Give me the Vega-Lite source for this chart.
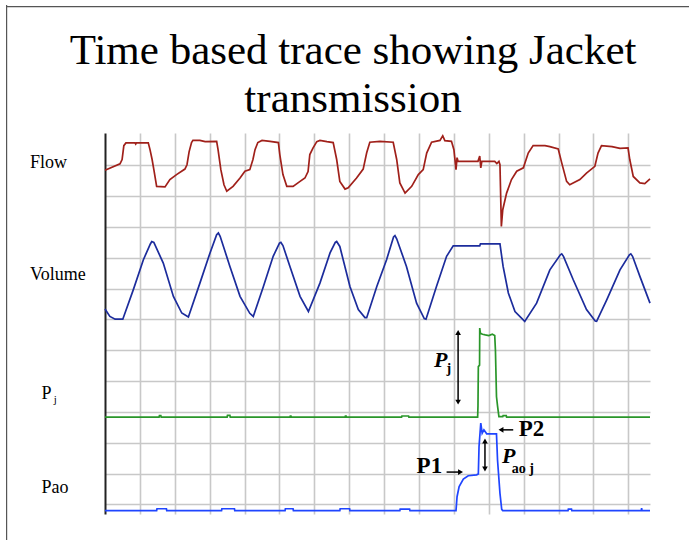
{
  "$schema": "https://vega.github.io/schema/vega-lite/v6.json",
  "width": 545,
  "height": 381,
  "autosize": {"type": "none"},
  "padding": {"left": 105, "top": 133, "right": 39, "bottom": 26},
  "background": "white",
  "config": {"view": {"stroke": null}},
  "encoding": {
    "x": {"field": "t", "type": "quantitative", "scale": {"domain": [0, 15.62], "nice": false, "zero": false},
      "axis": {"values": [1,2,3,4,5,6,7,8,9,10,11,12,13,14,15], "labels": false, "ticks": false, "domain": false, "title": null, "grid": true, "gridColor": "#c8c8c8", "gridWidth": 1.6}},
    "y": {"field": "v", "type": "quantitative", "scale": {"domain": [-0.31, 12.05], "nice": false, "zero": false},
      "axis": {"values": [0,1,2,3,4,5,6,7,8,9,10,11], "labels": false, "ticks": false, "domain": true, "domainColor": "#222222", "domainWidth": 2, "title": null, "grid": true, "gridColor": "#c8c8c8", "gridWidth": 1.6}}
  },
  "layer": [
    {
      "data": {"values": [
        {"t": -2.82, "v": 16.2, "t2": -2.82, "v2": -1.6},
        {"t": -2.82, "v": 16.15, "t2": 17.5, "v2": 16.15}
      ]},
      "mark": {"type": "rule", "color": "#555555", "strokeWidth": 1.2, "clip": false},
      "encoding": {"x2": {"field": "t2"}, "y2": {"field": "v2"}}
    },
    {
      "data": {"values": [
        {"s":"Flow","t":0,"v":10.84},{"s":"Flow","t":0.43,"v":11.05},{"s":"Flow","t":0.49,"v":11.19},{"s":"Flow","t":0.54,"v":11.64},{"s":"Flow","t":0.6,"v":11.73},{"s":"Flow","t":0.86,"v":11.73},{"s":"Flow","t":0.88,"v":11.69},{"s":"Flow","t":0.9,"v":11.73},{"s":"Flow","t":1.24,"v":11.73},{"s":"Flow","t":1.29,"v":11.51},{"s":"Flow","t":1.35,"v":11.19},{"s":"Flow","t":1.4,"v":10.86},{"s":"Flow","t":1.48,"v":10.32},{"s":"Flow","t":1.72,"v":10.3},{"s":"Flow","t":1.86,"v":10.54},{"s":"Flow","t":2.05,"v":10.7},{"s":"Flow","t":2.29,"v":10.88},{"s":"Flow","t":2.35,"v":11.02},{"s":"Flow","t":2.41,"v":11.44},{"s":"Flow","t":2.48,"v":11.74},{"s":"Flow","t":2.52,"v":11.81},{"s":"Flow","t":2.72,"v":11.81},{"s":"Flow","t":2.87,"v":11.77},{"s":"Flow","t":3.2,"v":11.78},{"s":"Flow","t":3.24,"v":11.51},{"s":"Flow","t":3.32,"v":10.86},{"s":"Flow","t":3.41,"v":10.37},{"s":"Flow","t":3.49,"v":10.16},{"s":"Flow","t":3.67,"v":10.32},{"s":"Flow","t":3.87,"v":10.59},{"s":"Flow","t":4.01,"v":10.81},{"s":"Flow","t":4.15,"v":10.86},{"s":"Flow","t":4.24,"v":11.19},{"s":"Flow","t":4.3,"v":11.51},{"s":"Flow","t":4.38,"v":11.74},{"s":"Flow","t":4.5,"v":11.81},{"s":"Flow","t":4.73,"v":11.78},{"s":"Flow","t":4.97,"v":11.74},{"s":"Flow","t":5.01,"v":11.35},{"s":"Flow","t":5.1,"v":10.7},{"s":"Flow","t":5.21,"v":10.32},{"s":"Flow","t":5.39,"v":10.32},{"s":"Flow","t":5.59,"v":10.48},{"s":"Flow","t":5.73,"v":10.59},{"s":"Flow","t":5.82,"v":10.8},{"s":"Flow","t":5.87,"v":11.35},{"s":"Flow","t":5.96,"v":11.56},{"s":"Flow","t":6.07,"v":11.77},{"s":"Flow","t":6.16,"v":11.81},{"s":"Flow","t":6.36,"v":11.77},{"s":"Flow","t":6.54,"v":11.74},{"s":"Flow","t":6.64,"v":11.19},{"s":"Flow","t":6.73,"v":10.48},{"s":"Flow","t":6.88,"v":10.23},{"s":"Flow","t":6.97,"v":10.27},{"s":"Flow","t":7.21,"v":10.59},{"s":"Flow","t":7.4,"v":10.88},{"s":"Flow","t":7.5,"v":11.41},{"s":"Flow","t":7.59,"v":11.75},{"s":"Flow","t":7.88,"v":11.78},{"s":"Flow","t":8.26,"v":11.75},{"s":"Flow","t":8.36,"v":11.19},{"s":"Flow","t":8.45,"v":10.43},{"s":"Flow","t":8.6,"v":10.1},{"s":"Flow","t":8.79,"v":10.32},{"s":"Flow","t":8.98,"v":10.7},{"s":"Flow","t":9.12,"v":10.86},{"s":"Flow","t":9.22,"v":11.4},{"s":"Flow","t":9.36,"v":11.75},{"s":"Flow","t":9.6,"v":11.81},{"s":"Flow","t":9.68,"v":11.96},{"s":"Flow","t":9.74,"v":11.8},{"s":"Flow","t":9.93,"v":11.78},{"s":"Flow","t":10.0,"v":11.51},{"s":"Flow","t":10.06,"v":10.86},{"s":"Flow","t":10.09,"v":11.25},{"s":"Flow","t":10.12,"v":11.13},{"s":"Flow","t":10.69,"v":11.13},{"s":"Flow","t":10.74,"v":11.3},{"s":"Flow","t":10.77,"v":10.92},{"s":"Flow","t":10.8,"v":11.13},{"s":"Flow","t":11.17,"v":11.13},{"s":"Flow","t":11.23,"v":11.06},{"s":"Flow","t":11.29,"v":11.13},{"s":"Flow","t":11.32,"v":11.02},{"s":"Flow","t":11.36,"v":9.02},{"s":"Flow","t":11.4,"v":9.56},{"s":"Flow","t":11.51,"v":10.1},{"s":"Flow","t":11.65,"v":10.54},{"s":"Flow","t":11.8,"v":10.81},{"s":"Flow","t":11.99,"v":10.92},{"s":"Flow","t":12.13,"v":11.4},{"s":"Flow","t":12.27,"v":11.64},{"s":"Flow","t":12.61,"v":11.64},{"s":"Flow","t":12.75,"v":11.61},{"s":"Flow","t":12.99,"v":11.53},{"s":"Flow","t":13.09,"v":11.08},{"s":"Flow","t":13.23,"v":10.48},{"s":"Flow","t":13.32,"v":10.37},{"s":"Flow","t":13.61,"v":10.54},{"s":"Flow","t":13.8,"v":10.75},{"s":"Flow","t":14.04,"v":10.97},{"s":"Flow","t":14.13,"v":11.4},{"s":"Flow","t":14.23,"v":11.64},{"s":"Flow","t":14.53,"v":11.61},{"s":"Flow","t":14.76,"v":11.55},{"s":"Flow","t":14.99,"v":11.57},{"s":"Flow","t":15.04,"v":11.19},{"s":"Flow","t":15.14,"v":10.64},{"s":"Flow","t":15.33,"v":10.43},{"s":"Flow","t":15.47,"v":10.41},{"s":"Flow","t":15.62,"v":10.56},
        {"s":"Volume","t":0,"v":6.34},{"s":"Volume","t":0.14,"v":6.1},{"s":"Volume","t":0.29,"v":6.01},{"s":"Volume","t":0.51,"v":6.01},{"s":"Volume","t":0.81,"v":6.96},{"s":"Volume","t":1.1,"v":7.94},{"s":"Volume","t":1.3,"v":8.45},{"s":"Volume","t":1.34,"v":8.53},{"s":"Volume","t":1.4,"v":8.5},{"s":"Volume","t":1.67,"v":7.83},{"s":"Volume","t":1.96,"v":6.75},{"s":"Volume","t":2.2,"v":6.21},{"s":"Volume","t":2.39,"v":6.08},{"s":"Volume","t":2.72,"v":7.18},{"s":"Volume","t":3.01,"v":8.16},{"s":"Volume","t":3.2,"v":8.75},{"s":"Volume","t":3.25,"v":8.81},{"s":"Volume","t":3.3,"v":8.7},{"s":"Volume","t":3.58,"v":7.72},{"s":"Volume","t":3.87,"v":6.75},{"s":"Volume","t":4.15,"v":6.2},{"s":"Volume","t":4.25,"v":6.1},{"s":"Volume","t":4.54,"v":7.07},{"s":"Volume","t":4.82,"v":8.05},{"s":"Volume","t":5.0,"v":8.48},{"s":"Volume","t":5.04,"v":8.5},{"s":"Volume","t":5.1,"v":8.4},{"s":"Volume","t":5.3,"v":7.72},{"s":"Volume","t":5.59,"v":6.75},{"s":"Volume","t":5.83,"v":6.26},{"s":"Volume","t":6.16,"v":7.18},{"s":"Volume","t":6.45,"v":8.16},{"s":"Volume","t":6.6,"v":8.5},{"s":"Volume","t":6.64,"v":8.53},{"s":"Volume","t":6.73,"v":8.37},{"s":"Volume","t":7.02,"v":7.07},{"s":"Volume","t":7.26,"v":6.32},{"s":"Volume","t":7.45,"v":6.06},{"s":"Volume","t":7.5,"v":6.06},{"s":"Volume","t":7.79,"v":7.07},{"s":"Volume","t":8.07,"v":7.94},{"s":"Volume","t":8.27,"v":8.68},{"s":"Volume","t":8.31,"v":8.72},{"s":"Volume","t":8.36,"v":8.62},{"s":"Volume","t":8.64,"v":7.72},{"s":"Volume","t":8.93,"v":6.53},{"s":"Volume","t":9.15,"v":6.03},{"s":"Volume","t":9.2,"v":6.01},{"s":"Volume","t":9.5,"v":7.07},{"s":"Volume","t":9.79,"v":8.05},{"s":"Volume","t":9.98,"v":8.39},{"s":"Volume","t":10.74,"v":8.39},{"s":"Volume","t":10.76,"v":8.45},{"s":"Volume","t":11.32,"v":8.45},{"s":"Volume","t":11.41,"v":7.72},{"s":"Volume","t":11.56,"v":6.86},{"s":"Volume","t":11.75,"v":6.26},{"s":"Volume","t":12.03,"v":5.94},{"s":"Volume","t":12.37,"v":6.53},{"s":"Volume","t":12.75,"v":7.61},{"s":"Volume","t":13.05,"v":8.1},{"s":"Volume","t":13.09,"v":8.13},{"s":"Volume","t":13.14,"v":8.05},{"s":"Volume","t":13.42,"v":7.29},{"s":"Volume","t":13.8,"v":6.32},{"s":"Volume","t":14.05,"v":5.95},{"s":"Volume","t":14.09,"v":5.94},{"s":"Volume","t":14.38,"v":6.64},{"s":"Volume","t":14.76,"v":7.61},{"s":"Volume","t":15.03,"v":8.1},{"s":"Volume","t":15.07,"v":8.13},{"s":"Volume","t":15.12,"v":8.05},{"s":"Volume","t":15.33,"v":7.4},{"s":"Volume","t":15.62,"v":6.53},
        {"s":"Pj","t":0,"v":2.83},{"s":"Pj","t":1.55,"v":2.83},{"s":"Pj","t":1.56,"v":2.88},{"s":"Pj","t":1.6,"v":2.88},{"s":"Pj","t":1.61,"v":2.83},{"s":"Pj","t":3.5,"v":2.83},{"s":"Pj","t":3.51,"v":2.89},{"s":"Pj","t":3.58,"v":2.89},{"s":"Pj","t":3.59,"v":2.83},{"s":"Pj","t":5.3,"v":2.83},{"s":"Pj","t":5.31,"v":2.87},{"s":"Pj","t":5.33,"v":2.87},{"s":"Pj","t":5.34,"v":2.83},{"s":"Pj","t":6.88,"v":2.83},{"s":"Pj","t":6.89,"v":2.87},{"s":"Pj","t":6.91,"v":2.87},{"s":"Pj","t":6.92,"v":2.83},{"s":"Pj","t":8.5,"v":2.83},{"s":"Pj","t":8.51,"v":2.87},{"s":"Pj","t":8.7,"v":2.87},{"s":"Pj","t":8.71,"v":2.83},{"s":"Pj","t":10.68,"v":2.83},{"s":"Pj","t":10.69,"v":3.2},{"s":"Pj","t":10.7,"v":4.47},{"s":"Pj","t":10.735,"v":4.52},{"s":"Pj","t":10.74,"v":5.72},{"s":"Pj","t":10.76,"v":5.55},{"s":"Pj","t":10.82,"v":5.52},{"s":"Pj","t":10.9,"v":5.5},{"s":"Pj","t":11.0,"v":5.48},{"s":"Pj","t":11.1,"v":5.52},{"s":"Pj","t":11.17,"v":5.48},{"s":"Pj","t":11.19,"v":5.0},{"s":"Pj","t":11.22,"v":3.5},{"s":"Pj","t":11.25,"v":3.2},{"s":"Pj","t":11.29,"v":2.85},{"s":"Pj","t":11.4,"v":2.85},{"s":"Pj","t":11.41,"v":2.88},{"s":"Pj","t":11.5,"v":2.88},{"s":"Pj","t":11.51,"v":2.83},{"s":"Pj","t":15.62,"v":2.83},
        {"s":"Pao","t":0,"v":-0.2},{"s":"Pao","t":1.48,"v":-0.2},{"s":"Pao","t":1.49,"v":-0.14},{"s":"Pao","t":1.76,"v":-0.14},{"s":"Pao","t":1.77,"v":-0.2},{"s":"Pao","t":3.34,"v":-0.2},{"s":"Pao","t":3.35,"v":-0.14},{"s":"Pao","t":3.71,"v":-0.14},{"s":"Pao","t":3.72,"v":-0.2},{"s":"Pao","t":5.16,"v":-0.2},{"s":"Pao","t":5.17,"v":-0.14},{"s":"Pao","t":5.39,"v":-0.14},{"s":"Pao","t":5.4,"v":-0.2},{"s":"Pao","t":6.73,"v":-0.2},{"s":"Pao","t":6.74,"v":-0.14},{"s":"Pao","t":7.01,"v":-0.14},{"s":"Pao","t":7.02,"v":-0.2},{"s":"Pao","t":8.45,"v":-0.2},{"s":"Pao","t":8.46,"v":-0.15},{"s":"Pao","t":8.73,"v":-0.15},{"s":"Pao","t":8.74,"v":-0.2},{"s":"Pao","t":10.06,"v":-0.2},{"s":"Pao","t":10.09,"v":0.25},{"s":"Pao","t":10.15,"v":0.58},{"s":"Pao","t":10.27,"v":0.82},{"s":"Pao","t":10.41,"v":0.93},{"s":"Pao","t":10.65,"v":0.96},{"s":"Pao","t":10.7,"v":0.99},{"s":"Pao","t":10.72,"v":1.88},{"s":"Pao","t":10.77,"v":2.64},{"s":"Pao","t":10.81,"v":2.31},{"s":"Pao","t":10.86,"v":2.42},{"s":"Pao","t":10.94,"v":2.29},{"s":"Pao","t":11.22,"v":2.29},{"s":"Pao","t":11.25,"v":1.44},{"s":"Pao","t":11.32,"v":0.36},{"s":"Pao","t":11.37,"v":-0.16},{"s":"Pao","t":11.4,"v":-0.2},{"s":"Pao","t":13.27,"v":-0.2},{"s":"Pao","t":13.28,"v":-0.15},{"s":"Pao","t":13.37,"v":-0.15},{"s":"Pao","t":13.38,"v":-0.2},{"s":"Pao","t":15.37,"v":-0.2},{"s":"Pao","t":15.38,"v":-0.12},{"s":"Pao","t":15.39,"v":-0.2},{"s":"Pao","t":15.62,"v":-0.2}
      ]},
      "mark": {"type": "line", "strokeWidth": 1.7},
      "encoding": {
        "color": {"field": "s", "type": "nominal", "legend": null,
          "scale": {"domain": ["Flow", "Volume", "Pj", "Pao"], "range": ["#a0201a", "#1c2c9c", "#2a962a", "#1f45ff"]}}
      }
    },
    {
      "data": {"values": [
        {"t": 10.12, "v": 5.57, "t2": 10.12, "v2": 3.33},
        {"t": 10.89, "v": 2.07, "t2": 10.89, "v2": 1.14},
        {"t": 9.79, "v": 1.05, "t2": 10.2, "v2": 1.05},
        {"t": 11.7, "v": 2.42, "t2": 11.33, "v2": 2.42}
      ]},
      "mark": {"type": "rule", "color": "black", "strokeWidth": 1.5},
      "encoding": {"x2": {"field": "t2"}, "y2": {"field": "v2"}}
    },
    {
      "data": {"values": [
        {"t": 10.12, "v": 5.58, "d": "up"},
        {"t": 10.12, "v": 3.32, "d": "down"},
        {"t": 10.89, "v": 2.06, "d": "up"},
        {"t": 10.89, "v": 1.15, "d": "down"},
        {"t": 10.19, "v": 1.05, "d": "right"},
        {"t": 11.35, "v": 2.42, "d": "left"}
      ]},
      "mark": {"type": "point", "filled": true, "color": "black", "opacity": 1, "size": 32},
      "encoding": {"shape": {"field": "d", "type": "nominal", "legend": null,
        "scale": {"domain": ["up", "down", "left", "right"], "range": ["triangle-up", "triangle-down", "triangle-left", "triangle-right"]}}}
    },
    {
      "data": {"values": [
        {"t": 7.11, "v": 14.3, "label": "Time based trace showing Jacket"},
        {"t": 7.11, "v": 12.74, "label": "transmission"}
      ]},
      "mark": {"type": "text", "font": "Liberation Serif", "fontSize": 43, "align": "center", "baseline": "alphabetic", "color": "black"},
      "encoding": {"text": {"field": "label"}}
    },
    {
      "data": {"values": [
        {"t": -2.15, "v": 10.92, "label": "Flow"},
        {"t": -2.15, "v": 7.27, "label": "Volume"},
        {"t": -1.82, "v": 3.42, "label": "P"},
        {"t": -1.82, "v": 0.38, "label": "Pao"}
      ]},
      "mark": {"type": "text", "font": "Liberation Serif", "fontSize": 18, "align": "left", "baseline": "alphabetic", "color": "black"},
      "encoding": {"text": {"field": "label"}}
    },
    {
      "data": {"values": [{"t": -1.47, "v": 3.28, "label": "j"}]},
      "mark": {"type": "text", "font": "Liberation Serif", "fontSize": 11, "align": "left", "baseline": "alphabetic", "color": "black"},
      "encoding": {"text": {"field": "label"}}
    },
    {
      "data": {"values": [
        {"t": 8.93, "v": 1.02, "label": "P1"},
        {"t": 11.86, "v": 2.21, "label": "P2"}
      ]},
      "mark": {"type": "text", "font": "Liberation Serif", "fontSize": 23, "fontWeight": "bold", "align": "left", "baseline": "alphabetic", "color": "black"},
      "encoding": {"text": {"field": "label"}}
    },
    {
      "data": {"values": [
        {"t": 9.43, "v": 4.47, "label": "P"},
        {"t": 11.38, "v": 1.35, "label": "P"}
      ]},
      "mark": {"type": "text", "font": "Liberation Serif", "fontSize": 22, "fontWeight": "bold", "fontStyle": "italic", "align": "left", "baseline": "alphabetic", "color": "black"},
      "encoding": {"text": {"field": "label"}}
    },
    {
      "data": {"values": [
        {"t": 9.79, "v": 4.26, "label": "j"},
        {"t": 11.66, "v": 1.02, "label": "ao j"}
      ]},
      "mark": {"type": "text", "font": "Liberation Serif", "fontSize": 14, "fontWeight": "bold", "align": "left", "baseline": "alphabetic", "color": "black"},
      "encoding": {"text": {"field": "label"}}
    }
  ]
}
